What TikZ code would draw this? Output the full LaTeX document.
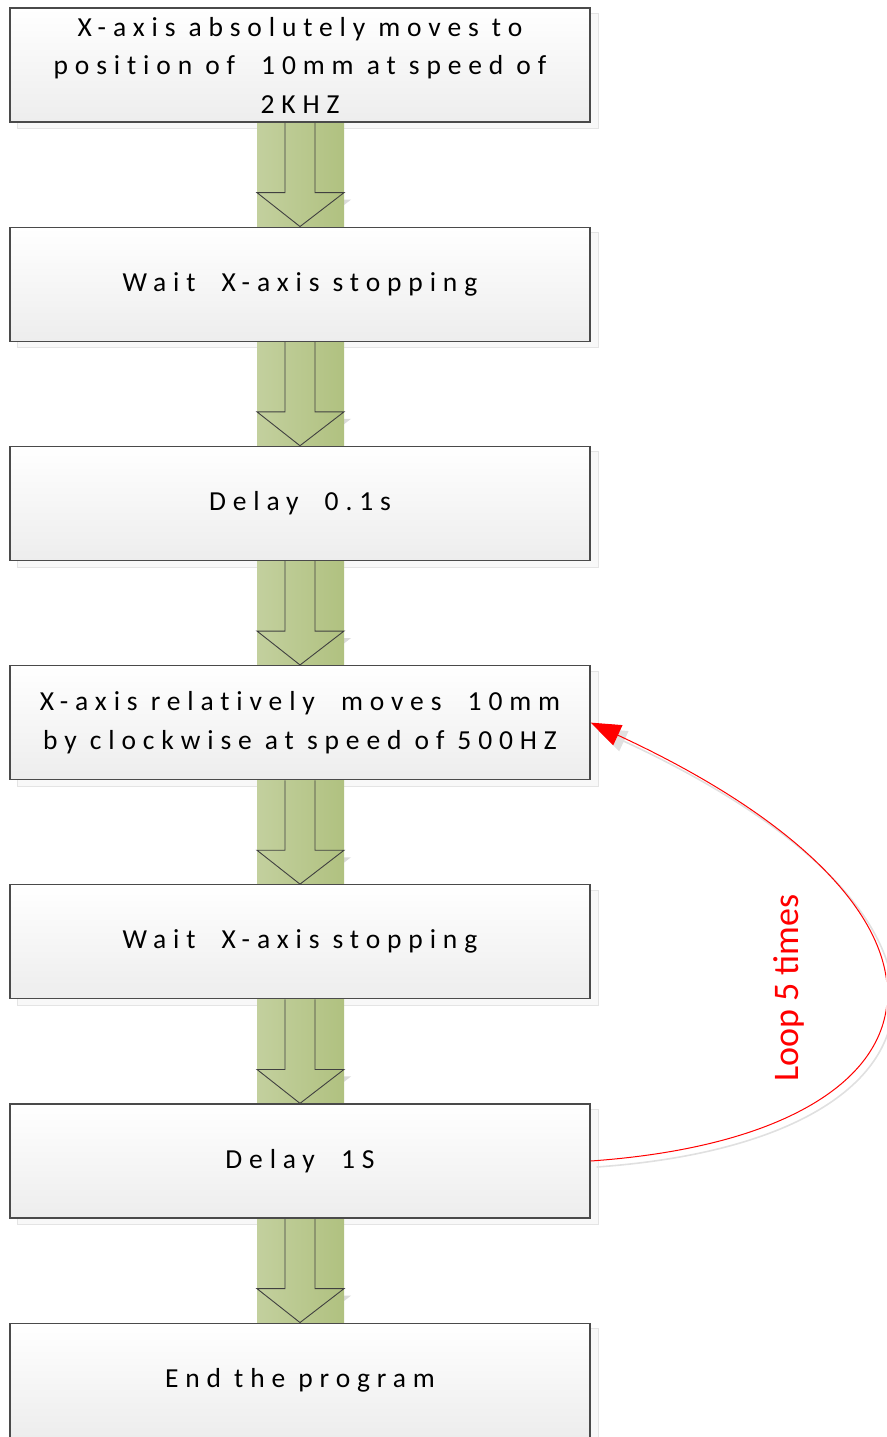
\documentclass[tikz,border=0pt]{standalone}
\usepackage{fontspec}
\setmainfont{Carlito}[LetterSpace=25,Ligatures=NoCommon]
\newfontfamily\loopfont{Carlito}
\usetikzlibrary{arrows.meta,calc}
\definecolor{pipeL}{HTML}{C3D09E}
\definecolor{pipeR}{HTML}{B0C180}
\definecolor{boxedge}{HTML}{4A4A4A}
\definecolor{boxlow}{HTML}{EDEDED}
\definecolor{shadeedge}{HTML}{E4E4E4}
\definecolor{shadefill}{HTML}{F8F8F8}
\pgfdeclarelayer{shade}
\pgfdeclarelayer{pipes}
\pgfsetlayers{shade,pipes,main}
\tikzset{
  stepbox/.style={draw=boxedge, line width=1.3pt, top color=white, bottom color=boxlow,
    minimum width=580pt, minimum height=114pt, inner sep=0pt, align=center,
    font=\fontsize{27.5}{38.5}\selectfont},
  boxshade/.style={fill=shadefill, draw=shadeedge, line width=0.8pt},
  pipe/.style={left color=pipeL, right color=pipeR},
  pipeedge/.style={draw=black!75, line width=0.9pt, line join=miter},
  loopline/.style={draw=red, line width=1pt, -{Triangle[length=30pt,width=22pt]}},
  loopshade/.style={draw=black!12, line width=1.6pt, -{Triangle[length=30pt,width=22pt]}},
}
\begin{document}
\begin{tikzpicture}[x=1pt,y=-1pt]
\useasboundingbox (0,0) rectangle (886,1437);
\clip (0,0) rectangle (886,1437);

% process steps
\node[stepbox] (b1) at (300,65)     {X-axis absolutely moves to\\position of\ \ 10mm at speed of\\2KHZ};
\node[stepbox] (b2) at (300,284.2)  {Wait\ \ X-axis stopping};
\node[stepbox] (b3) at (300,503.4)  {Delay\ \ 0.1s};
\node[stepbox] (b4) at (300,722.6)  {X-axis relatively\ \ moves\ \ 10mm\\by clockwise at speed of 500HZ};
\node[stepbox] (b5) at (300,941.8)  {Wait\ \ X-axis stopping};
\node[stepbox] (b6) at (300,1161)   {Delay\ \ 1S};
\node[stepbox] (b7) at (300,1380.2) {End the program};

% drop shadows
\begin{pgfonlayer}{shade}
  \foreach \i in {1,...,7}
    \draw[boxshade] ($(b\i.north west)+(8,6)$) rectangle ($(b\i.south east)+(8,6)$);
  \foreach \i/\j in {1/2,2/3,3/4,4/5,5/6,6/7}
    \fill[black!14] ($(b\i.south)+(-36,77)$) -- ($(b\j.north)+(7,7)$) -- ($(b\i.south)+(51,77)$) -- cycle;
  \draw[loopshade] ($(b6.east)+(6,6)$) .. controls (966,1141) and (1008,919) .. ($(b4.east)+(6,6)$);
\end{pgfonlayer}

% block arrows between the steps
\begin{pgfonlayer}{pipes}
  \foreach \i/\j in {1/2,2/3,3/4,4/5,5/6,6/7}{
    \fill[pipe] ($(b\i.south)+(-43,0)$) rectangle ($(b\j.north)+(44,0)$);
    \draw[pipeedge] ($(b\i.south)+(-15,0)$) -- ($(b\i.south)+(-15,70)$) -- ($(b\i.south)+(-43,70)$)
      -- (b\j.north) -- ($(b\i.south)+(44,70)$) -- ($(b\i.south)+(15,70)$) -- ($(b\i.south)+(15,0)$);
  }
\end{pgfonlayer}

% loop back
\draw[loopline] (b6.east) .. controls (960,1135) and (1002,913) .. (b4.east);
\node[text=red, rotate=90, font=\loopfont\fontsize{36}{40}\selectfont] (loop) at (789,988) {Loop 5 times};
\end{tikzpicture}
\end{document}
